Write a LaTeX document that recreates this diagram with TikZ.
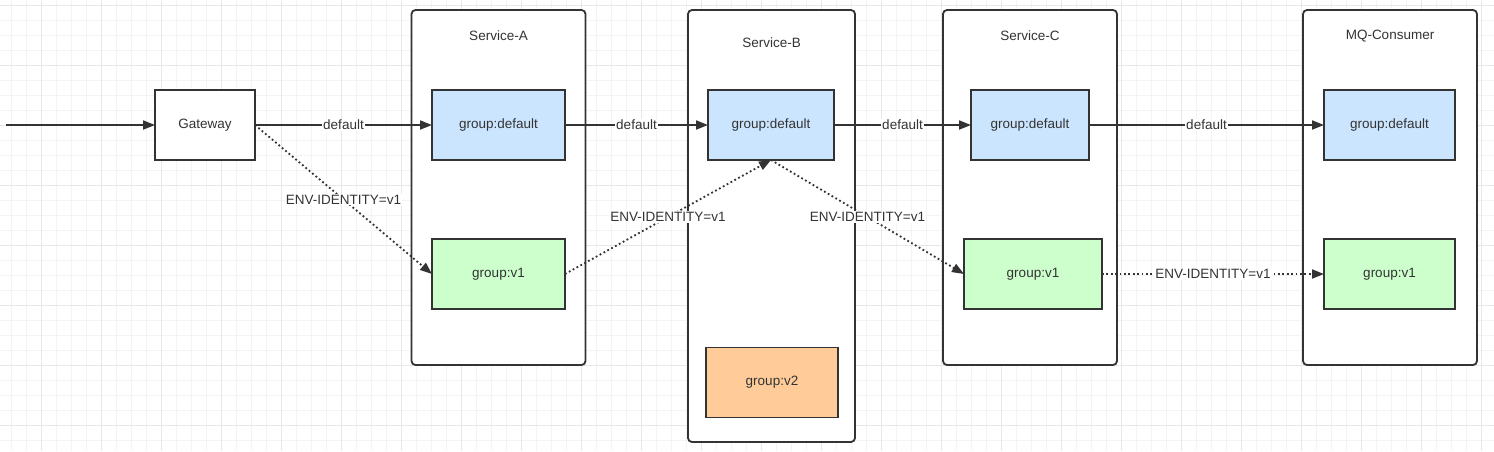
\documentclass[tikz,border=0pt]{standalone}
\usepackage{fontspec}
\setmainfont{Liberation Sans}
\usetikzlibrary{arrows.meta}
\definecolor{txt}{HTML}{333333}
\definecolor{gridminor}{HTML}{F4F4F4}
\definecolor{gridmajor}{HTML}{E8E8E8}
\definecolor{cblue}{HTML}{CCE5FF}
\definecolor{cgreen}{HTML}{CCFFCC}
\definecolor{corange}{HTML}{FFCC99}
\tikzset{
  box/.style={draw=txt, line width=1.8pt, fill=white, text=txt, font=\fontsize{13.5}{16}\selectfont, inner sep=0pt, outer sep=0pt},
  svc/.style={box, rounded corners=4pt},
  title/.style={text=txt, font=\fontsize{13.5}{16}\selectfont, inner sep=0pt},
  flow/.style={draw=txt, line width=1.8pt, -{Triangle[length=12pt,width=9pt]}},
  env/.style={flow, dash pattern=on 1.8pt off 2.6pt},
  lbl/.style={fill=white, text=txt, font=\fontsize{13.5}{16}\selectfont, inner sep=1pt, solid}
}
\begin{document}
\begin{tikzpicture}[x=1pt,y=-1pt]
\useasboundingbox (0,0) rectangle (1494,451);
\fill[white] (0,0) rectangle (1494,451);
% grid
\foreach \i in {0,...,99} {\draw[gridminor, line width=0.6pt] ({11.7+15*\i},0) -- ({11.7+15*\i},451);}
\foreach \i in {0,...,30} {\draw[gridminor, line width=0.6pt] (0,{5+15*\i}) -- (1494,{5+15*\i});}
\foreach \i in {0,...,24} {\draw[gridmajor, line width=0.6pt] ({41.7+60*\i},0) -- ({41.7+60*\i},451);}
\foreach \i in {0,...,7} {\draw[gridmajor, line width=0.6pt] (0,{5+60*\i}) -- (1494,{5+60*\i});}

% containers
\node[svc, minimum width=174pt, minimum height=355pt] (sa) at (498.5,187.5) {};
\node[svc, minimum width=167pt, minimum height=432pt] (sb) at (771.5,226) {};
\node[svc, minimum width=174pt, minimum height=355pt] (sc) at (1030,187.5) {};
\node[svc, minimum width=174pt, minimum height=355pt] (mq) at (1390,187.5) {};
\node[title] (ta) at (498.5,36) {Service-A};
\node[title] (tb) at (771.5,43) {Service-B};
\node[title] (tc) at (1030,36) {Service-C};
\node[title] (tm) at (1390,36) {MQ-Consumer};

% inner nodes
\node[box, minimum width=100pt, minimum height=70pt] (gw) at (205,125) {Gateway};
\node[box, fill=cblue, minimum width=133pt, minimum height=70pt] (ad) at (498.5,125) {group:default};
\node[box, fill=cgreen, minimum width=133pt, minimum height=70pt] (av1) at (498.5,274) {group:v1};
\node[box, fill=cblue, minimum width=126pt, minimum height=70pt] (bd) at (771,125) {group:default};
\node[box, fill=corange, minimum width=132pt, minimum height=70pt] (bv2) at (772,382.5) {group:v2};
\node[box, fill=cblue, minimum width=118pt, minimum height=70pt] (cd) at (1030,125) {group:default};
\node[box, fill=cgreen, minimum width=138pt, minimum height=70pt] (cv1) at (1033,274) {group:v1};
\node[box, fill=cblue, minimum width=131pt, minimum height=70pt] (md) at (1389.5,125) {group:default};
\node[box, fill=cgreen, minimum width=131pt, minimum height=70pt] (mv1) at (1389.5,274) {group:v1};

\coordinate (in) at (6,125);

% default flow
\draw[flow] (in) -- (gw);
\draw[flow] (gw) -- node[lbl] {default} (ad);
\draw[flow] (ad) -- node[lbl] {default} (bd);
\draw[flow] (bd) -- node[lbl] {default} (cd);
\draw[flow] (cd) -- node[lbl] {default} (md);

% env flow
\draw[env] (gw.east) -- node[lbl] {ENV-IDENTITY=v1} (av1.west);
\draw[env] (av1.east) -- node[lbl] {ENV-IDENTITY=v1} (bd.south);
\draw[env] (bd.south) -- node[lbl] {ENV-IDENTITY=v1} (cv1.west);
\draw[env] (cv1.east) -- node[lbl] {ENV-IDENTITY=v1} (mv1.west);
\end{tikzpicture}
\end{document}
